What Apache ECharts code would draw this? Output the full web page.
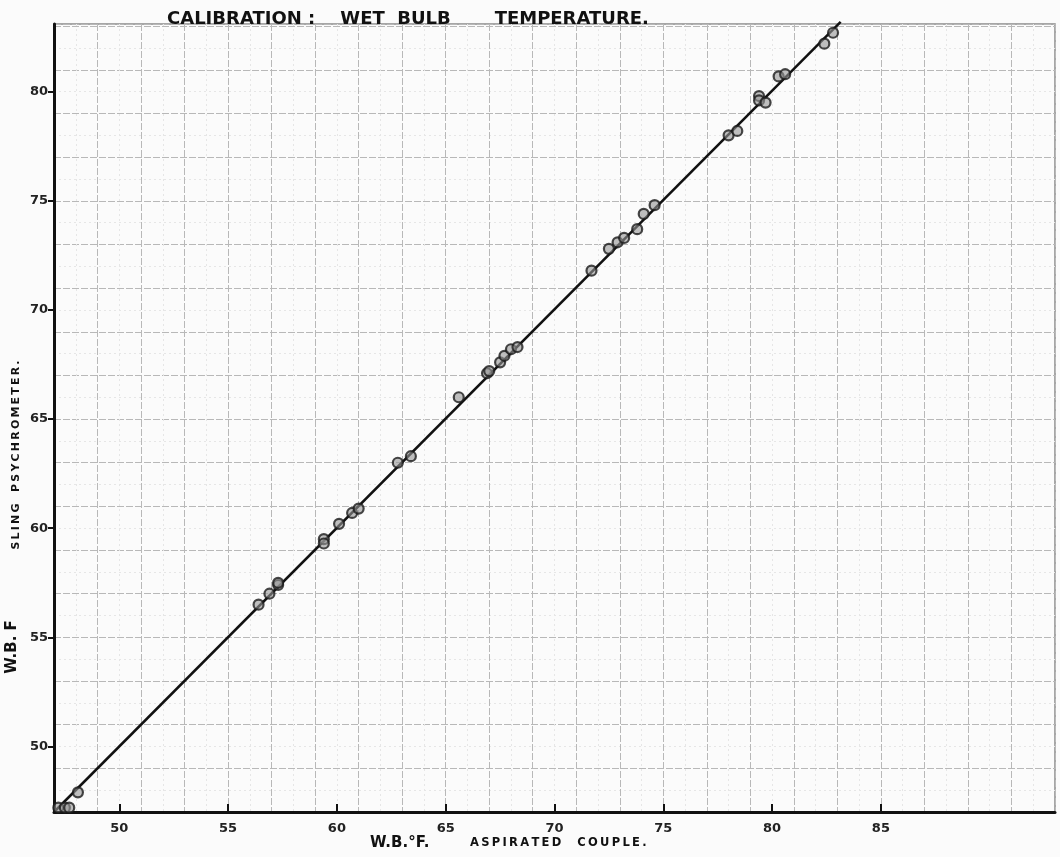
<!DOCTYPE html>
<html>
<head>
<meta charset="utf-8">
<script src="https://cdn.jsdelivr.net/npm/echarts@6/dist/echarts.min.js"></script>
<style>
html,body{margin:0;padding:0;background:#fbfbfb;}
#chart{width:1060px;height:857px;}
</style>
</head>
<body>
<div id="chart"></div>
<script>
// Axis tick labels
const xTickValues = [50, 55, 60, 65, 70, 75, 80, 85];
const yTickValues = [50, 55, 60, 65, 70, 75, 80];
// Calibration line (sling psychrometer vs aspirated couple)
const fitLine = [[47.0, 47.0], [83.15, 83.2]];
// Observations: [aspirated couple W.B.°F, sling psychrometer W.B.°F]
const obsAspirated = [47.2, 47.5, 47.7, 48.1, 56.4, 56.9, 57.3, 57.3, 59.4, 59.4, 60.1, 60.7, 61.0, 62.8, 63.4,
  65.6, 66.9, 67.0, 67.5, 67.7, 68.0, 68.3, 71.7, 72.5, 72.9, 73.2, 73.8, 74.1, 74.6,
  78.0, 78.4, 79.4, 79.4, 79.7, 80.3, 80.6, 82.4, 82.8];
const obsSling = [47.2, 47.2, 47.2, 47.9, 56.5, 57.0, 57.4, 57.5, 59.5, 59.3, 60.2, 60.7, 60.9, 63.0, 63.3,
  66.0, 67.1, 67.2, 67.6, 67.9, 68.2, 68.3, 71.8, 72.8, 73.1, 73.3, 73.7, 74.4, 74.8,
  78.0, 78.2, 79.8, 79.6, 79.5, 80.7, 80.8, 82.2, 82.7];

const scatterData = obsAspirated.map((x, i) => [x, obsSling[i]]);

const chart = echarts.init(document.getElementById('chart'));
const fontFam = '"DejaVu Sans", sans-serif';
const gridRect = {left: 54, right: 5, top: 24, bottom: 45};
const ts = '\u2009';
const spaced = s => s.split('').join(ts);

chart.setOption({
  backgroundColor: '#fbfbfb',
  animation: false,
  grid: [
    Object.assign({show: true, borderColor: '#8a8a8a', borderWidth: 1.5, backgroundColor: 'transparent'}, gridRect),
    Object.assign({show: false}, gridRect)
  ],
  xAxis: [
    {
      type: 'value', gridIndex: 0, min: 47, max: 93,
      axisLine: {show: true, lineStyle: {color: '#111', width: 3}},
      axisTick: {show: true, inside: true, length: 8, customValues: xTickValues, lineStyle: {color: '#111', width: 2}},
      axisLabel: {show: true, customValues: xTickValues, margin: 10, color: '#222', fontFamily: fontFam, fontWeight: 'bold', fontSize: 13},
      splitLine: {show: false}
    },
    {
      // graph-paper lines, every 2 units starting at 47
      type: 'value', gridIndex: 1, min: 0, max: 46, interval: 2,
      axisLine: {show: false}, axisTick: {show: false}, axisLabel: {show: false},
      splitLine: {show: true, lineStyle: {color: '#b8b8b8', width: 1, type: [7, 2]}},
      minorTick: {show: false, splitNumber: 2},
      minorSplitLine: {show: true, lineStyle: {color: '#e6e6e6', width: 1, type: [2, 3]}}
    }
  ],
  yAxis: [
    {
      type: 'value', gridIndex: 0, min: 47, max: 83.1,
      axisLine: {show: true, lineStyle: {color: '#111', width: 3}},
      axisTick: {show: true, inside: false, length: 6, customValues: yTickValues, lineStyle: {color: '#111', width: 2}},
      axisLabel: {show: true, customValues: yTickValues, margin: 6, color: '#222', fontFamily: fontFam, fontWeight: 'bold', fontSize: 13},
      splitLine: {show: false}
    },
    {
      type: 'value', gridIndex: 1, min: 0, max: 36.1, interval: 2,
      axisLine: {show: false}, axisTick: {show: false}, axisLabel: {show: false},
      splitLine: {show: true, lineStyle: {color: '#b8b8b8', width: 1, type: [7, 2]}},
      minorTick: {show: false, splitNumber: 2},
      minorSplitLine: {show: true, lineStyle: {color: '#e6e6e6', width: 1, type: [2, 3]}}
    }
  ],
  series: [
    {
      type: 'line', xAxisIndex: 0, yAxisIndex: 0, data: fitLine, symbol: 'none', clip: false,
      lineStyle: {color: '#111', width: 2.5}, z: 3
    },
    {
      type: 'scatter', xAxisIndex: 0, yAxisIndex: 0, data: scatterData, symbol: 'circle', symbolSize: 10,
      itemStyle: {color: 'rgba(150,150,150,0.75)', borderColor: '#1a1a1a', borderWidth: 2.2}, z: 4
    }
  ],
  graphic: [
    {type: 'text', left: 167, top: 10, style: {text: 'CALIBRATION :    WET  BULB       TEMPERATURE.', fill: '#111', font: 'bold 18px "DejaVu Sans", sans-serif'}},
    {type: 'text', left: 370, top: 836, style: {text: 'W.B.°F.', fill: '#111', font: 'bold 15px "DejaVu Sans", sans-serif'}},
    {type: 'text', left: 470, top: 837, style: {text: spaced('ASPIRATED') + '    ' + spaced('COUPLE.'), fill: '#111', font: 'bold 11.5px "DejaVu Sans", sans-serif'}},
    {type: 'text', x: 12, y: 647, rotation: Math.PI / 2, style: {text: 'W.B. F', fill: '#111', font: 'bold 15px "DejaVu Sans", sans-serif', align: 'center', verticalAlign: 'middle'}},
    {type: 'text', x: 16, y: 455, rotation: Math.PI / 2, style: {text: spaced('SLING') + '   ' + spaced('PSYCHROMETER.'), fill: '#111', font: 'bold 11px "DejaVu Sans", sans-serif', align: 'center', verticalAlign: 'middle'}}
  ]
});
</script>
</body>
</html>
